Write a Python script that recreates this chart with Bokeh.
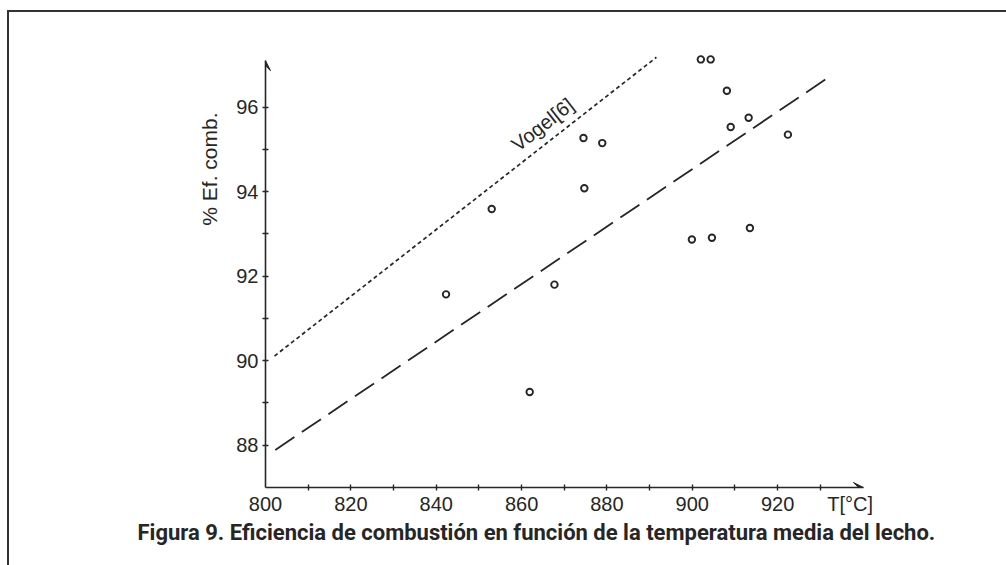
import math

from bokeh.plotting import figure
from bokeh.models import (FixedTicker, Label, Arrow, VeeHead, Range1d, Title,
                          InlineStyleSheet)
from bokeh.embed import file_html
from bokeh.resources import INLINE

# Mean bed temperature (°C) and combustion efficiency (%) of each run
temp_c = [902.0, 904.3, 908.1, 913.2, 909.0, 922.4, 874.5, 878.9,
          874.7, 899.9, 904.6, 913.5, 853.0, 842.3, 861.9, 867.7]
eff_pct = [97.13, 97.13, 96.39, 95.75, 95.53, 95.35, 95.27, 95.15,
           94.08, 92.87, 92.91, 93.14, 93.59, 91.57, 89.26, 91.80]

# Vogel [6] correlation and the fitted line (end points)
vogel_t = [802.1, 891.6]
vogel_eff = [90.11, 97.18]
fit_t = [802.3, 931.7]
fit_eff = [87.89, 96.69]

x_labels = {800: "800", 820: "820", 840: "840", 860: "860", 880: "880",
            900: "900", 920: "920", 937: "T[°C]"}
x_marks = [810, 820, 830, 840, 850, 860, 870, 880, 890, 900, 910, 920, 930]
y_major = [88, 90, 92, 94, 96]
y_minor = [89, 91, 93, 95]

INK = "#262626"
FONT = "Liberation Sans"

W, H = 1006, 565
LEFT, RIGHT, TOP, BOTTOM = 265, 990, 20, 487
PX_PER_C = 4.268
PX_PER_PCT = 42.26

x0, y0 = 800, 87
x1 = x0 + (RIGHT - LEFT) / PX_PER_C
y1 = y0 + (BOTTOM - TOP) / PX_PER_PCT

# left and top rules of the page box
page_box = InlineStyleSheet(css="""
:host { position: relative; }
:host::after {
  content: ""; position: absolute; left: 7px; top: 10px; right: 0; bottom: 0;
  border-left: 2px solid #333333; border-top: 2px solid #333333;
  pointer-events: none;
}
""")

p = figure(width=W, height=H, output_backend="svg", toolbar_location=None,
           x_range=Range1d(x0, x1), y_range=Range1d(y0, y1),
           min_border_left=LEFT, min_border_right=W - RIGHT,
           min_border_top=TOP, min_border_bottom=H - BOTTOM,
           stylesheets=[page_box])
p.outline_line_color = None
p.grid.visible = False
p.background_fill_color = "white"
p.border_fill_color = "white"

# axes
for ax in (p.xaxis[0], p.yaxis[0]):
    ax.axis_line_color = INK
    ax.axis_line_width = 1.6
    ax.major_tick_line_color = INK
    ax.minor_tick_line_color = INK
    ax.major_tick_line_width = 1.4
    ax.minor_tick_line_width = 1.4
    ax.minor_tick_in = 3
    ax.minor_tick_out = 3
    ax.major_label_text_font = FONT
    ax.major_label_text_font_size = "20px"
    ax.major_label_text_color = INK

# x: labels come from the major ticks, all tick marks from the minor list
p.xaxis.ticker = FixedTicker(ticks=list(x_labels), minor_ticks=x_marks)
p.xaxis.major_label_overrides = x_labels
p.xaxis.major_tick_in = 0
p.xaxis.major_tick_out = 3
p.xaxis.major_tick_line_alpha = 0
p.yaxis.ticker = FixedTicker(ticks=y_major, minor_ticks=y_minor)
p.yaxis.major_tick_in = 3
p.yaxis.major_tick_out = 3
p.xaxis.bounds = (800, 940.1)
p.yaxis.bounds = (87, 97.1)
p.xaxis.major_label_standoff = 2
p.yaxis.major_label_standoff = 4

# axis arrowheads
p.add_layout(Arrow(x_start=935, y_start=87, x_end=940.1, y_end=87,
                   line_alpha=0,
                   end=VeeHead(size=10, fill_color=INK, line_color=INK)))
p.add_layout(Arrow(x_start=800, y_start=96.9, x_end=800, y_end=97.1,
                   line_alpha=0,
                   end=VeeHead(size=10, fill_color=INK, line_color=INK)))

# lines
p.line(vogel_t, vogel_eff, line_color=INK, line_width=1.7, line_dash="4 3")
p.line(fit_t, fit_eff, line_color=INK, line_width=1.8, line_dash="23 9")

# measured points
p.scatter(temp_c, eff_pct, marker="circle", size=6.5, fill_color="white",
          line_color=INK, line_width=1.9)

# curve label
p.add_layout(Label(x=542, y=124, x_units="canvas", y_units="canvas",
                   text="Vogel[6]", angle=math.radians(38),
                   text_align="center", text_baseline="middle",
                   text_font=FONT, text_font_size="20px", text_color=INK))

# y axis title, set beside the tick labels and toward the top
p.add_layout(Title(text="% Ef. comb.", align="right", offset=92, standoff=25,
                   text_font=FONT, text_font_size="21px",
                   text_font_style="normal", text_color=INK), "left")

# figure caption
p.add_layout(Title(text="Figura 9.  Eficiencia de combustión en función de la temperatura media del lecho.",
                   align="left", offset=-128, standoff=1,
                   text_font="Roboto", text_font_style="bold",
                   text_font_size="22px", text_color=INK), "below")

open("out.html", "w").write(file_html(p, INLINE))
